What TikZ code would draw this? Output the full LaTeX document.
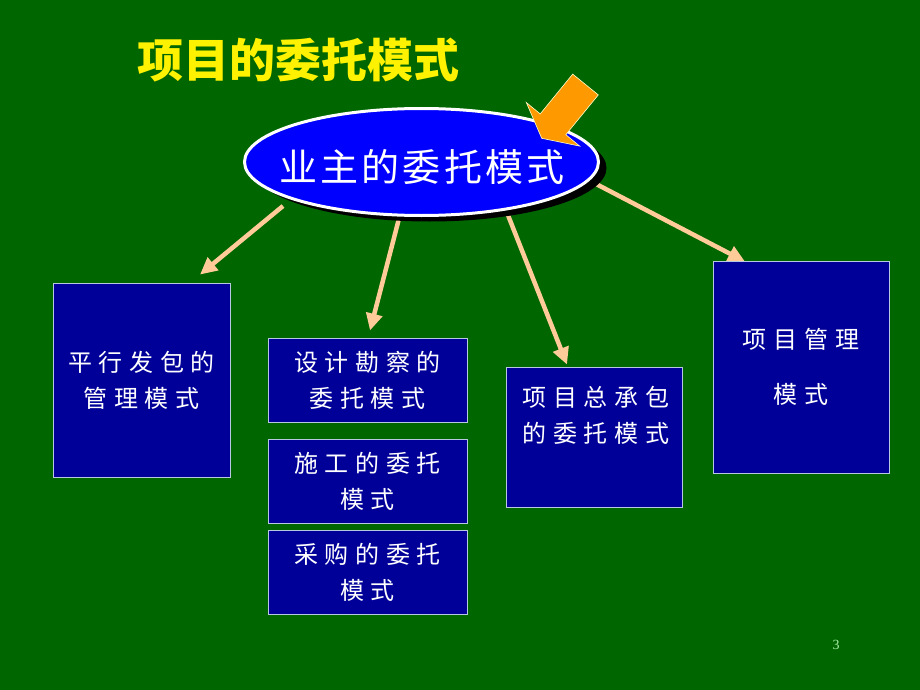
\documentclass[tikz,border=0pt]{standalone}
\usepackage{fontspec}
\newfontfamily\cjk{Noto Sans CJK SC}
\newfontfamily\cjkbox[LetterSpace=28]{Noto Sans CJK SC}
\newfontfamily\cjkell[LetterSpace=8]{Noto Sans CJK SC}
\newfontfamily\numfont{Liberation Serif}
\usetikzlibrary{arrows.meta,calc,shapes.geometric,shadows}
\definecolor{bggreen}{HTML}{006600}
\definecolor{boxblue}{HTML}{000099}
\definecolor{ellblue}{HTML}{0000FF}
\definecolor{peach}{HTML}{FFCC99}
\definecolor{orangeA}{HTML}{FF9900}
\definecolor{orangeEdge}{HTML}{FFFFCC}
\definecolor{boxedge}{HTML}{B8C8E0}
\definecolor{pagegreen}{HTML}{A8F0A8}
\pgfdeclarelayer{bg}\pgfdeclarelayer{mid}\pgfsetlayers{bg,mid,main}
\begin{document}
\begin{tikzpicture}[x=1pt,y=-1pt,
  box/.style={draw=boxedge, line width=0.9pt, fill=boxblue, text=white, inner sep=0pt, align=center, font=\cjkbox\fontsize{24}{36}\selectfont},
  boxtext/.style={text=white, inner sep=0pt, align=center, font=\cjkbox\fontsize{24}{36}\selectfont},
  conn/.style={draw=peach, line width=4.5pt, -{Triangle[length=17pt,width=16pt]}},
]
\useasboundingbox (0,0) rectangle (920,690);
\begin{pgfonlayer}{bg}
\fill[bggreen] (0,0) rectangle (920,690);
\end{pgfonlayer}

% title
\node[text=yellow, inner sep=0pt, font=\cjk\bfseries\fontsize{46}{46}\selectfont] (title) at (298,60) {项目的委托模式};

% central ellipse
\node[ellipse, draw=white, line width=3pt, fill=ellblue, minimum width=354pt, minimum height=107pt, inner sep=0pt,
      drop shadow={shadow xshift=8pt, shadow yshift=-6pt, opacity=1, fill=black}] (ell) at (421.5,162) {};
\node[text=white, inner sep=0pt, font=\cjkell\fontsize{38}{38}\selectfont] (owner) at (422,167) {业主的委托模式};

% boxes
\node[box, minimum width=177pt, minimum height=194pt] (A) at (141.5,380) {平行发包的\\管理模式};
\node[box, minimum width=199pt, minimum height=84pt] (B) at (367.5,380) {设计勘察的\\委托模式};
\node[box, minimum width=199pt, minimum height=84pt] (C) at (367.5,481) {施工的委托\\模式};
\node[box, minimum width=199pt, minimum height=84pt] (D) at (367.5,572) {采购的委托\\模式};
\node[box, minimum width=176pt, minimum height=140pt] (E) at (594,437) {};
\node[boxtext] (Et) at (596,415) {项目总承包\\的委托模式};
\node[box, minimum width=176pt, minimum height=212pt, font=\cjkbox\fontsize{24}{55}\selectfont] (F) at (801,367) {项目管理\\模式};

% connectors
\begin{pgfonlayer}{mid}
\draw[conn] ($(ell.center)+(-138.5,44)$) -- ($(A.north)+(58.5,-8)$);
\draw[conn] ($(ell.center)+(-19,43)$) -- ($(B.north)+(2.5,-7)$);
\draw[conn] ($(ell.center)+(80.5,38)$) -- ($(E.north)+(-27,-2)$);
\draw[conn] ($(ell.center)+(158.5,13.6)$) -- ($(F.north)+(-56,1)$);
\end{pgfonlayer}

% orange block arrow
\draw[draw=orangeEdge, line width=0.6pt, fill=orangeA]
  (572.7,74.1) -- (598.3,94.9) -- (565.8,134.7) -- (579.7,146.1) -- (541.7,138.3) -- (526.3,102.5) -- (540.2,113.9) -- cycle;

% page number
\node[text=pagegreen, inner sep=0pt, font=\numfont\fontsize{14}{14}\selectfont] (pg) at (836,645) {3};
\end{tikzpicture}
\end{document}
